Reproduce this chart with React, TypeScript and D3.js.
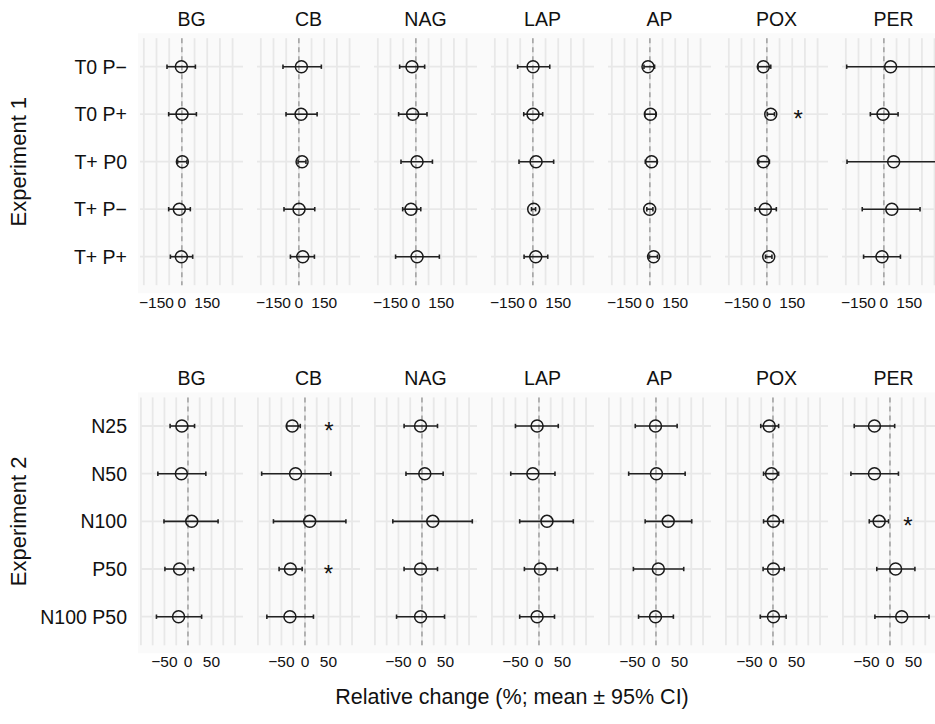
import React from "react";
import * as d3 from "d3";

// facets (enzymes), shared by both experiments
const enzymes = ["BG", "CB", "NAG", "LAP", "AP", "POX", "PER"];

// experiment 1: treatments top to bottom, values per enzyme (in treatment order)
const exp1Treatments = ["T0 P−", "T0 P+", "T+ P0", "T+ P−", "T+ P+"];
const exp1Mean = [
  [-3, 1, 3, -15, -3],
  [15, 13, 19, 1, 23],
  [-23, -19, 7, -29, 7],
  [1, 1, 19, 5, 17],
  [-11, 3, 10, -1, 22],
  [-21, 23, -21, -9, 11],
  [40, -5, 58, 47, -11],
];
const exp1Lower = [
  [-88, -78, -25, -78, -68],
  [-94, -76, -5, -88, -50],
  [-96, -102, -88, -78, -120],
  [-90, -54, -82, -8, -52],
  [-35, -30, -27, -18, -5],
  [-52, 3, -48, -70, -8],
  [-220, -80, -218, -128, -120],
];
const exp1Upper = [
  [80, 86, 30, 50, 64],
  [133, 108, 42, 94, 92],
  [52, 66, 98, 29, 139],
  [100, 58, 123, 16, 88],
  [28, 35, 42, 18, 45],
  [23, 45, 15, 56, 30],
  [330, 84, 334, 214, 98],
];
const exp1Ticks = [-150, 0, 150];
const exp1Stars = [{ enzyme: "POX", treatment: "T0 P+", x: 185 }];

// experiment 2
const exp2Treatments = ["N25", "N50", "N100", "P50", "N100 P50"];
const exp2Mean = [
  [-13, -14, 8, -18, -20],
  [-27, -20, 10, -31, -32],
  [-3, 6, 23, -3, -3],
  [-4, -13, 17, 3, -4],
  [-1, 1, 26, 5, -1],
  [-8, -3, 1, 1, 1],
  [-33, -33, -23, 12, 25],
];
const exp2Lower = [
  [-38, -64, -51, -49, -67],
  [-39, -92, -67, -55, -81],
  [-38, -34, -62, -38, -54],
  [-50, -60, -41, -31, -41],
  [-44, -58, -23, -48, -37],
  [-26, -20, -20, -21, -27],
  [-76, -83, -44, -28, -32],
];
const exp2Upper = [
  [14, 38, 64, 12, 29],
  [-10, 55, 87, -6, 18],
  [33, 45, 107, 33, 48],
  [41, 34, 73, 39, 33],
  [45, 62, 76, 59, 37],
  [12, 12, 22, 24, 28],
  [10, 18, -3, 53, 83],
];
const exp2Ticks = [-50, 0, 50];
const exp2Stars = [
  { enzyme: "CB", treatment: "N25", x: 51 },
  { enzyme: "CB", treatment: "P50", x: 50 },
  { enzyme: "PER", treatment: "N100", x: 38 },
];

const panelLeft = 140;
const panelStep = 117;
const panelWidth = 103;
const font = "'Liberation Sans', Arial, sans-serif";
const fmt = d3.format("d");

function FacetRow({ title, top, bottom, stripY, tickY, treatments, mean, lower, upper, ticks, stars }) {
  // fixed x scale across facets, data range + 5% like ggplot
  const lo = d3.min(lower.flat());
  const hi = d3.max(upper.flat());
  const pad = (hi - lo) * 0.05;
  const x = d3.scaleLinear().domain([lo - pad, hi + pad]).range([0, panelWidth]);
  const y = d3.scalePoint().domain(treatments).range([top, bottom]).padding(0.6);
  const step = ticks[1] - ticks[0];
  const grid = d3.range(Math.ceil(x.domain()[0] / (step / 2)), Math.floor(x.domain()[1] / (step / 2)) + 1).map((k) => (k * step) / 2);

  return (
    <g>
      <rect x={panelLeft - 2} y={top - 5} width={935 - panelLeft + 2} height={bottom - top + 13} fill="#fafafa" />
      {treatments.map((t) => (
        <text key={t} x={127} y={y(t)} dy="0.36em" textAnchor="end" fontSize={19.5} fill="#111">
          {t}
        </text>
      ))}
      <text transform={`translate(26,${(top + bottom) / 2}) rotate(-90)`} textAnchor="middle" fontSize={22} fill="#111">
        {title}
      </text>
      {enzymes.map((e, i) => {
        const ox = panelLeft + i * panelStep;
        return (
          <g key={e} transform={`translate(${ox},0)`}>
            {treatments.map((t) => (
              <line key={t} x1={0} x2={panelWidth} y1={y(t)} y2={y(t)} stroke="#e8e8e8" strokeWidth={1.8} />
            ))}
            {grid.map((g) => (
              <line key={g} x1={x(g)} x2={x(g)} y1={top} y2={bottom} stroke="#e8e8e8" strokeWidth={1.8} />
            ))}
            <line x1={x(0)} x2={x(0)} y1={top} y2={bottom} stroke="#a0a0a0" strokeWidth={1.5} strokeDasharray="5 4" />
            <text x={panelWidth / 2} y={stripY} textAnchor="middle" fontSize={19.5} fill="#111">
              {e}
            </text>
            {ticks.map((v) => (
              <text key={v} x={x(v)} y={tickY} textAnchor="middle" fontSize={15.5} fill="#111">
                {fmt(v)}
              </text>
            ))}
            {treatments.map((t, j) => (
              <g key={t}>
                <line x1={x(lower[i][j])} x2={x(upper[i][j])} y1={y(t)} y2={y(t)} stroke="#222" strokeWidth={1.6} />
                <line x1={x(lower[i][j])} x2={x(lower[i][j])} y1={y(t) - 2.2} y2={y(t) + 2.2} stroke="#222" strokeWidth={1.6} />
                <line x1={x(upper[i][j])} x2={x(upper[i][j])} y1={y(t) - 2.2} y2={y(t) + 2.2} stroke="#222" strokeWidth={1.6} />
                <circle cx={x(mean[i][j])} cy={y(t)} r={6} fill="none" stroke="#1a1a1a" strokeWidth={1.5} />
              </g>
            ))}
            {stars
              .filter((s) => s.enzyme === e)
              .map((s) => (
                <text key={s.treatment} x={x(s.x)} y={y(s.treatment) + 13} textAnchor="middle" fontSize={24} fill="#111">
                  *
                </text>
              ))}
          </g>
        );
      })}
    </g>
  );
}

export default function App() {
  return (
    <svg width={935} height={724} style={{ position: "absolute", left: 0, top: 0, background: "#fff" }} fontFamily={font}>
      <FacetRow
        title="Experiment 1"
        top={38.2}
        bottom={285.2}
        stripY={26}
        tickY={307.5}
        treatments={exp1Treatments}
        mean={exp1Mean}
        lower={exp1Lower}
        upper={exp1Upper}
        ticks={exp1Ticks}
        stars={exp1Stars}
      />
      <FacetRow
        title="Experiment 2"
        top={397.4}
        bottom={645.3}
        stripY={385}
        tickY={667}
        treatments={exp2Treatments}
        mean={exp2Mean}
        lower={exp2Lower}
        upper={exp2Upper}
        ticks={exp2Ticks}
        stars={exp2Stars}
      />
      <text x={512} y={704} textAnchor="middle" fontSize={21.5} fill="#111">
        Relative change (%; mean ± 95% CI)
      </text>
    </svg>
  );
}
